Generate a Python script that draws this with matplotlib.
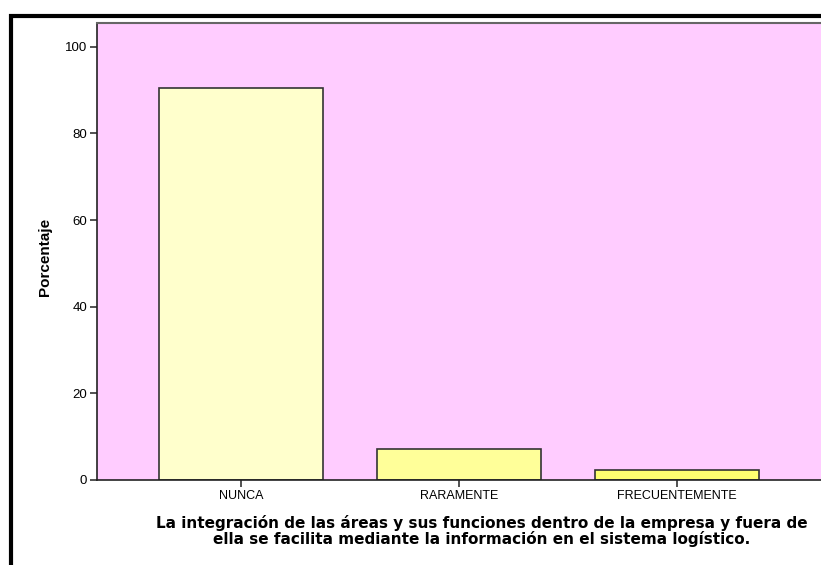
import matplotlib.pyplot as plt
from matplotlib.patches import Rectangle

categorias = ["NUNCA", "RARAMENTE", "FRECUENTEMENTE"]
porcentaje = [90.5, 7.1, 2.4]
colores = ["#FFFFCC", "#FFFF99", "#FFFF70"]
yticks = [0, 20, 40, 60, 80, 100]

fig = plt.figure(figsize=(8.21, 5.65), dpi=100)
ax = fig.add_axes([97 / 821, 85 / 565, 1 - 97 / 821, (480 - 23) / 565])
ax.set_facecolor("#FFCCFF")

xs = list(range(len(categorias)))
ax.bar(xs, porcentaje, width=0.75, color=colores, edgecolor="#333333", linewidth=1.2)

ax.set_xlim(-0.66, 2.66)
ax.set_ylim(0, 105.5)
ax.set_xticks(xs)
ax.set_xticklabels(categorias, fontsize=9, family="Liberation Sans")
ax.set_yticks(yticks)
ax.set_yticklabels([str(v) for v in yticks], fontsize=9.5, family="Liberation Sans")
ax.tick_params(axis="both", length=5, width=1.2, color="#333333", pad=2)

for s in ["left", "bottom"]:
    ax.spines[s].set_color("#222222")
    ax.spines[s].set_linewidth(1.2)
ax.spines["top"].set_color("#666666")
ax.spines["top"].set_linewidth(1.5)
ax.spines["right"].set_visible(False)

fig.text(45 / 821, 1 - 257 / 565, "Porcentaje", rotation=90, fontsize=11,
         fontweight="bold", family="Liberation Sans", ha="center", va="center")

fig.text(482 / 821, 1 - 531 / 565,
         "La integración de las áreas y sus funciones dentro de la empresa y fuera de\n"
         "ella se facilita mediante la información en el sistema logístico.",
         fontsize=11, fontweight="bold", family="DejaVu Sans",
         ha="center", va="center", linespacing=0.95)

# marco negro exterior
marco = Rectangle((11 / 821, -0.1), 1.2, 1.1 - 16 / 565, transform=fig.transFigure,
                  fill=False, edgecolor="black", linewidth=3, clip_on=False)
fig.patches.append(marco)

fig.savefig("out.png", dpi=100)
